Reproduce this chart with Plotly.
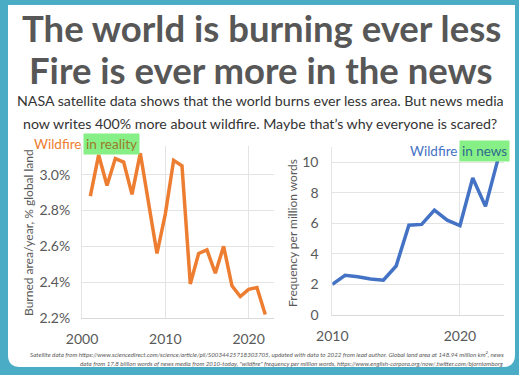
import plotly.graph_objects as go

# ---- data ----
reality_years = list(range(2001, 2023))
burned_pct = [2.88, 3.11, 2.94, 3.09, 3.07, 2.89, 3.12, 2.85, 2.56, 2.78, 3.08,
              3.05, 2.39, 2.56, 2.58, 2.45, 2.60, 2.38, 2.32, 2.36, 2.37, 2.22]
news_years = list(range(2010, 2024))
news_freq = [2.0, 2.6, 2.5, 2.35, 2.28, 3.2, 5.87, 5.92, 6.85, 6.2, 5.85, 8.95, 7.1, 10.25]

left_yticks = [2.2, 2.4, 2.6, 2.8, 3.0]
left_yticklabels = ["2.2%", "2.4%", "2.6%", "2.8%", "3.0%"]
left_xticks = [2000, 2010, 2020]
right_xticks = [2010, 2020]
right_yticks = [0, 2, 4, 6, 8, 10]

W, H = 519, 375
FONT = "Lato"
ORANGE = "#ED7D31"
BLUE = "#4472C4"
GRID = "#E4E4E4"
TEAL = "#4BACC6"
HILITE = "#86F086"


def px(x):
    return x / W


def py(y):
    return 1 - y / H


fig = go.Figure()
fig.add_trace(go.Scatter(x=reality_years, y=burned_pct, mode="lines",
                         line=dict(color=ORANGE, width=3.5), xaxis="x", yaxis="y",
                         showlegend=False, hoverinfo="skip"))
fig.add_trace(go.Scatter(x=news_years, y=news_freq, mode="lines",
                         line=dict(color=BLUE, width=3.5), xaxis="x2", yaxis="y2",
                         showlegend=False, hoverinfo="skip"))

axis_common = dict(showgrid=True, gridcolor=GRID, gridwidth=1, zeroline=False,
                   tickfont=dict(family=FONT, size=14, color="#595959"),
                   ticks="outside", tickcolor="rgba(0,0,0,0)", fixedrange=True,
                   automargin=False)

fig.update_layout(
    template="none",
    width=W, height=H,
    margin=dict(l=0, r=0, t=0, b=0, pad=0, autoexpand=False),
    paper_bgcolor=TEAL, plot_bgcolor="rgba(0,0,0,0)",
    xaxis=dict(domain=[px(82), px(273.6)], range=[2000, 2023], tickvals=left_xticks,
               showline=True, linecolor="#D9D9D9", ticklen=8, anchor="y", **axis_common),
    yaxis=dict(domain=[py(318), py(146)], range=[2.2, 3.16], tickvals=left_yticks,
               ticktext=left_yticklabels, showline=True, linecolor=GRID, ticklen=8,
               anchor="x", **axis_common),
    xaxis2=dict(domain=[px(332.3), px(504)], range=[2010, 2023.45], tickvals=right_xticks,
                showline=True, linecolor="#D9D9D9", ticklen=8, anchor="y2", **axis_common),
    yaxis2=dict(domain=[py(315), py(146.7)], range=[0, 11], tickvals=right_yticks,
                showline=True, linecolor=GRID, ticklen=10, anchor="x2", **axis_common),
)

# white panel with rounded bottom corners
L, T, R, B, r = 8, 5, 515, 367, 12
path = (f"M {px(L)},{py(T)} L {px(R)},{py(T)} L {px(R)},{py(B - r)} "
        f"Q {px(R)},{py(B)} {px(R - r)},{py(B)} L {px(L + r)},{py(B)} "
        f"Q {px(L)},{py(B)} {px(L)},{py(B - r)} Z")
fig.add_shape(type="path", path=path, xref="paper", yref="paper",
              fillcolor="white", line=dict(width=0), layer="below")

P = dict(xref="paper", yref="paper", showarrow=False)
ann = []
for txt, yc in [("The world is burning ever less", 27.5), ("Fire is ever more in the news", 70)]:
    ann.append(dict(text=f"<b>{txt}</b>", x=px(261), y=py(yc), xanchor="center", yanchor="middle",
                    font=dict(family=FONT, size=36.5, color="#575757"), **P))
for txt, yc in [("NASA satellite data shows that the world burns ever less area. But news media", 101),
                ("now writes 400% more about wildfire. Maybe that&#8217;s why everyone is scared?", 123)]:
    ann.append(dict(text=txt, x=px(260), y=py(yc), xanchor="center", yanchor="middle",
                    font=dict(family=FONT, size=14.2, color="#333333"), **P))
ann.append(dict(text="Burned area/year, % global land", x=px(29), y=py(233), textangle=-90,
                xanchor="center", yanchor="middle",
                font=dict(family=FONT, size=12, color="#595959"), **P))
ann.append(dict(text="Frequency per million words", x=px(293), y=py(233), textangle=-90,
                xanchor="center", yanchor="middle",
                font=dict(family=FONT, size=12, color="#595959"), **P))
ann.append(dict(text="Wildfire", x=px(83), y=py(143.5), xanchor="right", yanchor="middle",
                font=dict(family=FONT, size=13.5, color=ORANGE), **P))
ann.append(dict(text="in reality", x=px(83), y=py(143.5), xanchor="left", yanchor="middle",
                bgcolor=HILITE, borderpad=2,
                font=dict(family=FONT, size=13.5, color="#9A7A28"), **P))
ann.append(dict(text="Wildfire", x=px(459), y=py(151), xanchor="right", yanchor="middle",
                font=dict(family=FONT, size=13.5, color=BLUE), **P))
ann.append(dict(text="in news", x=px(459), y=py(151), xanchor="left", yanchor="middle",
                bgcolor=HILITE, borderpad=2,
                font=dict(family=FONT, size=13.5, color="#2F6A8E"), **P))
foot1 = ("Satellite data from https://www.sciencedirect.com/science/article/pii/S0034425718303705, "
         "updated with data to 2022 from lead author. Global land area at 148.94 million km&#178;, news")
foot2 = ('data from 17.8 billion words of news media from 2010-today, "wildfire" frequency per '
         'million words, https://www.english-corpora.org/now/,twitter.com/bjornlomborg')
for txt, yc in [(foot1, 354), (foot2, 363)]:
    ann.append(dict(text=f"<i>{txt}</i>", x=px(506), y=py(yc), xanchor="right", yanchor="middle",
                    font=dict(family=FONT, size=6.2, color="#595959"), **P))

fig.update_layout(annotations=ann)
fig.write_html("out.html", config={"displayModeBar": False},
               post_script="document.body.style.margin='0px';")
